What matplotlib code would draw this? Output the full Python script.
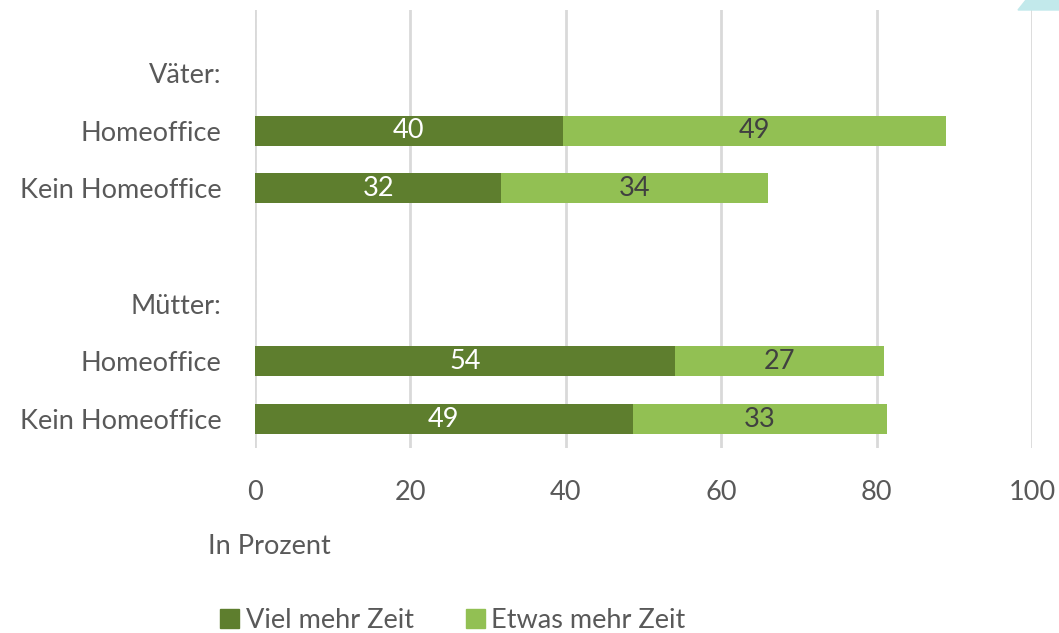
import matplotlib
matplotlib.use("Agg")
import matplotlib.pyplot as plt
from matplotlib.patches import Polygon

plt.rcParams['font.family'] = ['Lato', 'DejaVu Sans']

categories = ["Väter:", "Homeoffice", "Kein Homeoffice", "", "Mütter:", "Homeoffice", "Kein Homeoffice"]
viel_mehr = [None, 39.6, 31.7, None, None, 54.1, 48.6]
etwas_mehr = [None, 49.3, 34.3, None, None, 26.8, 32.7]
series_names = ["Viel mehr Zeit", "Etwas mehr Zeit"]
xticks = [0, 20, 40, 60, 80, 100]

c_dark = "#5E7E2E"
c_light = "#92C053"
txt = "#595959"
fs = 19.5

fig = plt.figure(figsize=(10.59, 6.33), dpi=100)
ax = fig.add_axes([255/1059, 1-448/633, (1032-255)/1059, (448-10)/633])

ypos = list(range(len(categories)))
for i, (a, b) in enumerate(zip(viel_mehr, etwas_mehr)):
    if a is None:
        continue
    ax.barh(i, a, height=0.52, color=c_dark, zorder=3)
    ax.barh(i, b, left=a, height=0.52, color=c_light, zorder=3)
    ax.text(a/2, i, f"{a:.0f}", ha="center", va="center", color="white", fontsize=fs, zorder=4)
    ax.text(a + b/2, i, f"{b:.0f}", ha="center", va="center", color="#404040", fontsize=fs, zorder=4)

ax.set_xlim(0, 100)
ax.set_ylim(6.5, -1.09)
ax.set_xticks(xticks)
ax.set_xticklabels([str(t) for t in xticks])
ax.set_yticks(ypos)
ax.set_yticklabels(categories)
ax.tick_params(axis="both", length=0, labelsize=fs, labelcolor=txt)
ax.tick_params(axis="x", pad=23)
ax.tick_params(axis="y", pad=24)
for s in ax.spines.values():
    s.set_visible(False)
ax.grid(axis="x", color="#D9D9D9", linewidth=2, zorder=0)
ax.axvline(0, color="#BFBFBF", linewidth=1.5, linestyle=(0, (2, 1)), zorder=1)

fig.text(208/1059, 1-547/633, "In Prozent", ha="left", va="center", fontsize=fs, color=txt)

# legend
h1 = plt.Rectangle((0, 0), 1, 1, color=c_dark)
h2 = plt.Rectangle((0, 0), 1, 1, color=c_light)
fig.legend([h1, h2], series_names, loc="center", bbox_to_anchor=(453/1059, 1-620/633),
           ncol=2, frameon=False, fontsize=fs, labelcolor=txt, handlelength=0.7,
           handleheight=0.7, handletextpad=0.25, columnspacing=1.9)

# decorative shape top right
fig.patches.append(Polygon([(1018/1059, 1-10/633), (1026/1059, 1.0), (1.0, 1.0), (1.0, 1-10/633)],
                           closed=True, transform=fig.transFigure, color="#C2E9EB"))

fig.savefig("out.png", dpi=100)
